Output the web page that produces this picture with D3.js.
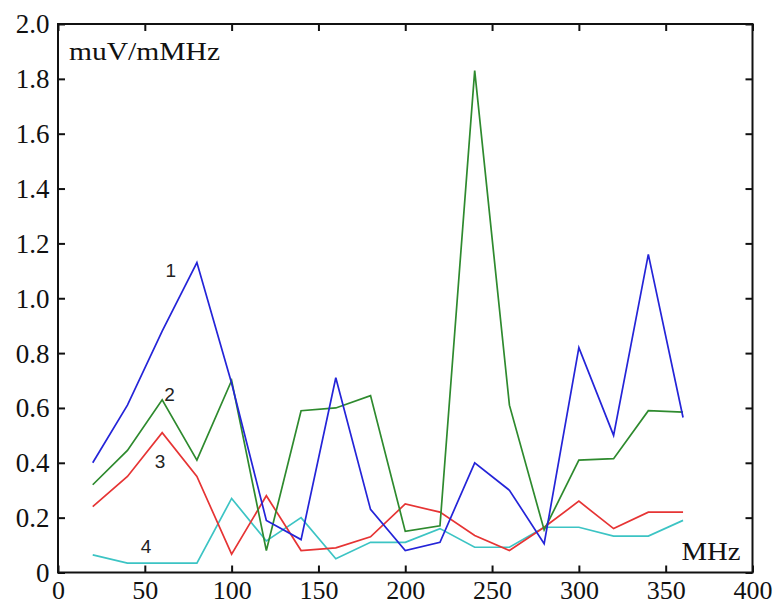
<!DOCTYPE html>
<html>
<head>
<meta charset="utf-8">
<script src="https://cdn.jsdelivr.net/npm/d3@7"></script>
<style>
  html, body { margin: 0; padding: 0; background: #fff; }
  svg { display: block; }
</style>
</head>
<body>
<div id="chart"></div>
<script>
// frequency points (MHz)
var freqs = [20, 40, 60, 80, 100, 120, 140, 160, 180, 200, 220, 240, 260, 280, 300, 320, 340, 360];

// series values, muV/mMHz
var series1 = [0.40, 0.61, 0.88, 1.13, 0.69, 0.19, 0.12, 0.71, 0.23, 0.08, 0.11, 0.40, 0.30, 0.105, 0.82, 0.50, 1.16, 0.565];
var series2 = [0.32, 0.445, 0.63, 0.41, 0.70, 0.08, 0.59, 0.60, 0.645, 0.15, 0.17, 1.83, 0.61, 0.155, 0.41, 0.415, 0.59, 0.585];
var series3 = [0.24, 0.35, 0.51, 0.35, 0.067, 0.28, 0.08, 0.09, 0.13, 0.25, 0.22, 0.135, 0.08, 0.165, 0.26, 0.16, 0.22, 0.22];
var series4 = [0.064, 0.034, 0.034, 0.034, 0.27, 0.115, 0.20, 0.05, 0.11, 0.11, 0.16, 0.092, 0.092, 0.165, 0.165, 0.133, 0.133, 0.19];

var seriesNames = ["1", "2", "3", "4"];
var seriesColors = ["#2424d8", "#2e8a2e", "#e63434", "#3cc4c4"];

// where the number labels sit (data coords)
var labelX = [65, 64.3, 58.8, 50.7];
var labelY = [1.077, 0.626, 0.38, 0.07];

var xTicks = [0, 50, 100, 150, 200, 250, 300, 350, 400];
var yTicks = [0, 0.2, 0.4, 0.6, 0.8, 1.0, 1.2, 1.4, 1.6, 1.8, 2.0];

var width = 775, height = 603;
var margin = {top: 24, right: 22.5, bottom: 30.5, left: 58};
var innerW = width - margin.left - margin.right;
var innerH = height - margin.top - margin.bottom;

var svg = d3.select("#chart").append("svg")
	.attr("width", width)
	.attr("height", height);

var g = svg.append("g")
	.attr("transform", "translate(" + margin.left + "," + margin.top + ")");

var x = d3.scaleLinear().domain([0, 400]).range([0, innerW]);
var y = d3.scaleLinear().domain([0, 2.0]).range([innerH, 0]);

var tickFont = "Liberation Serif, Times New Roman, serif";

// data lines
var line = d3.line()
	.x(function(d) { return x(d[0]); })
	.y(function(d) { return y(d[1]); });

var allSeries = [series1, series2, series3, series4];

// draw in back-to-front order similar to the picture
[3, 2, 1, 0].forEach(function(i)
{
	var pts = freqs.map(function(f, j) { return [f, allSeries[i][j]]; });
	g.append("path")
		.datum(pts)
		.attr("fill", "none")
		.attr("stroke", seriesColors[i])
		.attr("stroke-width", 1.7)
		.attr("stroke-linejoin", "miter")
		.attr("d", line);
});

// axes with inward ticks on all four sides
var tickLen = 7;

var xAxisB = g.append("g")
	.attr("transform", "translate(0," + innerH + ")")
	.call(d3.axisBottom(x).tickValues(xTicks).tickSizeInner(-tickLen).tickSizeOuter(0).tickPadding(8));

var xAxisT = g.append("g")
	.call(d3.axisTop(x).tickValues(xTicks).tickSizeInner(-tickLen).tickSizeOuter(0).tickFormat(""));

var yAxisL = g.append("g")
	.call(d3.axisLeft(y).tickValues(yTicks).tickSizeInner(-tickLen).tickSizeOuter(0).tickPadding(8.5)
		.tickFormat(function(d) { return d === 0 ? "0" : d3.format(".1f")(d); }));

var yAxisR = g.append("g")
	.attr("transform", "translate(" + innerW + ",0)")
	.call(d3.axisRight(y).tickValues(yTicks).tickSizeInner(-tickLen).tickSizeOuter(0).tickFormat(""));

[xAxisB, xAxisT, yAxisL, yAxisR].forEach(function(ax)
{
	ax.attr("font-family", tickFont).attr("font-size", 27);
	ax.select(".domain").remove();
	ax.selectAll(".tick line").attr("stroke", "#111").attr("stroke-width", 2);
	ax.selectAll(".tick text").attr("fill", "#111");
});

xAxisB.attr("font-size", 26);
xAxisB.selectAll(".tick text").attr("dy", "0.71em");
yAxisL.selectAll(".tick text").attr("dy", "0.33em");

// frame
g.append("rect")
	.attr("x", 0)
	.attr("y", 0)
	.attr("width", innerW)
	.attr("height", innerH)
	.attr("fill", "none")
	.attr("stroke", "#111")
	.attr("stroke-width", 2);

// unit labels
g.append("text")
	.attr("x", 11)
	.attr("y", 36)
	.attr("textLength", 151)
	.attr("lengthAdjust", "spacingAndGlyphs")
	.attr("font-family", tickFont)
	.attr("font-size", 25)
	.attr("fill", "#111")
	.text("muV/mMHz");

g.append("text")
	.attr("x", innerW - 12)
	.attr("y", innerH - 12.5)
	.attr("text-anchor", "end")
	.attr("textLength", 59)
	.attr("lengthAdjust", "spacingAndGlyphs")
	.attr("font-family", tickFont)
	.attr("font-size", 26)
	.attr("fill", "#111")
	.text("MHz");

// series number labels
seriesNames.forEach(function(name, i)
{
	g.append("text")
		.attr("x", x(labelX[i]))
		.attr("y", y(labelY[i]))
		.attr("text-anchor", "middle")
		.attr("font-family", "Liberation Sans, Arial, sans-serif")
		.attr("font-size", 19)
		.attr("fill", "#222")
		.text(name);
});
</script>
</body>
</html>
